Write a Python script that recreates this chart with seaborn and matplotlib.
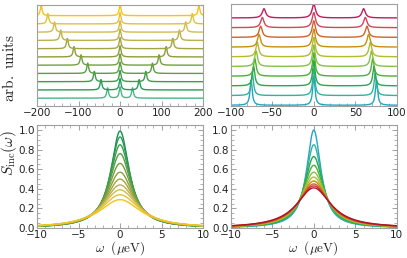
import numpy as np
import pandas as pd
import matplotlib
matplotlib.use("Agg")
import matplotlib.pyplot as plt
import seaborn as sns
from matplotlib.ticker import MultipleLocator

# top-left: side-peak positions (bottom curve -> top curve), peak heights, widths
tl_side = [30, 46, 62, 78, 94, 111, 127, 143, 158, 174, 190]
tl_side_h = [1.25, 1.25, 1.25, 1.25, 1.25, 1.25, 1.25, 1.25, 1.25, 1.25, 1.25]
tl_center_h = [1.35, 1.35, 1.35, 1.35, 1.35, 1.35, 1.35, 1.35, 1.35, 1.35, 1.35]
tl_width = [2.6, 2.6, 2.6, 2.6, 2.6, 2.6, 2.6, 2.6, 2.6, 2.6, 2.6]
tl_colors = ["#4fb488", "#2a9a58", "#3e9c4e", "#5a9e46", "#74a03e", "#8c9e3c",
             "#a3a63e", "#bcb04a", "#d2bb52", "#e6c03c", "#f5c414"]

# top-right
tr_side = [75.5, 74, 72.5, 71, 69.5, 68, 66, 64, 62, 60]
tr_side_h = [2.6, 2.3, 2.0, 1.8, 1.6, 1.45, 1.3, 1.15, 1.05, 0.95]
tr_center_h = [3.0, 2.8, 2.6, 2.4, 2.2, 2.0, 1.85, 1.7, 1.55, 1.45]
tr_width = [1.6, 1.7, 1.8, 1.9, 2.0, 2.1, 2.2, 2.3, 2.4, 2.5]
tr_colors = ["#22a6c2", "#33b29c", "#2aa84c", "#4cb036", "#86c246", "#b2bc2e",
             "#c4900e", "#d0622a", "#d2465a", "#c41a5c"]

# bottom panels: Lorentzian peak heights and half widths (µeV)
bl_height = [0.99, 0.93, 0.85, 0.76, 0.66, 0.57, 0.50, 0.44, 0.39, 0.34, 0.29]
bl_width = [1.35, 1.42, 1.5, 1.62, 1.78, 1.95, 2.13, 2.35, 2.58, 2.82, 3.07]
bl_colors = ["#1b8e4c", "#2a9a58", "#3e9c4e", "#5a9e46", "#74a03e", "#8c9e3c",
             "#a3a63e", "#bcb04a", "#d2bb52", "#e6c03c", "#f5c414"]

br_height = [1.0, 0.85, 0.73, 0.64, 0.57, 0.52, 0.48, 0.45, 0.43, 0.41]
br_width = [1.05, 1.2, 1.38, 1.55, 1.72, 1.88, 2.05, 2.2, 2.35, 2.5]
br_colors = ["#22a6c2", "#33b29c", "#2aa84c", "#4cb036", "#86c246", "#b2bc2e",
             "#c4900e", "#d0622a", "#c83040", "#b01424"]


def lor(x, x0, h, g):
    return h / (1 + ((x - x0) / g) ** 2)


def stack_df(xs, side, side_h, center_h, width):
    rows = []
    for i in range(len(side)):
        y = (i + lor(xs, 0, center_h[i], width[i])
             + lor(xs, -side[i], side_h[i], width[i])
             + lor(xs, side[i], side_h[i], width[i]))
        rows.append(pd.DataFrame({"x": xs, "y": y, "curve": i}))
    return pd.concat(rows)


def single_df(xs, height, width):
    rows = []
    for i in range(len(height)):
        rows.append(pd.DataFrame({"x": xs, "y": lor(xs, 0, height[i], width[i]), "curve": i}))
    return pd.concat(rows)


sns.set_theme(style="ticks")
plt.rcParams['font.family'] = ['DejaVu Sans']
plt.rcParams['mathtext.fontset'] = 'cm'

fig = plt.figure(figsize=(4.07, 2.58), dpi=100)
ax_tl = fig.add_axes([0.091, 0.589, 0.408, 0.392])
ax_tr = fig.add_axes([0.567, 0.589, 0.408, 0.396])
ax_bl = fig.add_axes([0.091, 0.116, 0.408, 0.399])
ax_br = fig.add_axes([0.567, 0.116, 0.408, 0.399])

x1 = np.linspace(-200, 200, 4001)
sns.lineplot(data=stack_df(x1, tl_side, tl_side_h, tl_center_h, tl_width), x="x", y="y",
             hue="curve", palette=tl_colors, legend=False, estimator=None, sort=False,
             lw=1.0, ax=ax_tl)
x2 = np.linspace(-100, 100, 4001)
sns.lineplot(data=stack_df(x2, tr_side, tr_side_h, tr_center_h, tr_width), x="x", y="y",
             hue="curve", palette=tr_colors, legend=False, estimator=None, sort=False,
             lw=1.0, ax=ax_tr)
x3 = np.linspace(-10, 10, 801)
sns.lineplot(data=single_df(x3, bl_height, bl_width), x="x", y="y", hue="curve",
             palette=bl_colors, legend=False, estimator=None, sort=False, lw=1.0, ax=ax_bl)
sns.lineplot(data=single_df(x3, br_height, br_width), x="x", y="y", hue="curve",
             palette=br_colors, legend=False, estimator=None, sort=False, lw=1.0, ax=ax_br)

ax_tl.set_xlim(-200, 200)
ax_tl.set_ylim(-0.95, 11.3)
ax_tr.set_xlim(-100, 100)
ax_tr.set_ylim(-0.08, 10.45)
ax_tl.xaxis.set_major_locator(MultipleLocator(100))
ax_tl.xaxis.set_minor_locator(MultipleLocator(20))
ax_tr.xaxis.set_major_locator(MultipleLocator(50))
ax_tr.xaxis.set_minor_locator(MultipleLocator(10))

for ax in (ax_bl, ax_br):
    ax.set_xlim(-10, 10)
    ax.set_ylim(0, 1.05)
    ax.xaxis.set_major_locator(MultipleLocator(5))
    ax.xaxis.set_minor_locator(MultipleLocator(1))
    ax.yaxis.set_major_locator(MultipleLocator(0.2))
    ax.yaxis.set_minor_locator(MultipleLocator(0.05))
    ax.set_xlabel(r"$\omega\ \ (\mu\mathrm{eV})$", fontsize=9.5, labelpad=-0.5)
    ax.tick_params(which="both", direction="in", top=True, right=True)

for ax in (ax_tl, ax_tr):
    ax.set_yticks([])
    ax.set_xlabel("")
    ax.tick_params(which="both", direction="in")

for ax in (ax_tl, ax_tr, ax_bl, ax_br):
    ax.set_ylabel("")
    for s in ax.spines.values():
        s.set_color("#a0a0a0")
        s.set_linewidth(0.8)
    ax.tick_params(which="major", length=3.5, width=0.6, color="#909090",
                   labelsize=7.5, labelcolor="#222222", pad=1.5)
    ax.tick_params(which="minor", length=2, width=0.5, color="#909090")

# y label split along the left edge: "arb. units" by the top row, S_inc by the bottom row
fig.text(0.022, 1 - 68 / 258, r"$\mathrm{arb.\ units}$", rotation=90,
         fontsize=11, ha="center", va="center")
fig.text(0.022, 1 - 153 / 258, r"$S_{\mathrm{inc}}(\omega)$", rotation=90,
         fontsize=11, ha="center", va="center")

fig.savefig("out.png", dpi=100)
